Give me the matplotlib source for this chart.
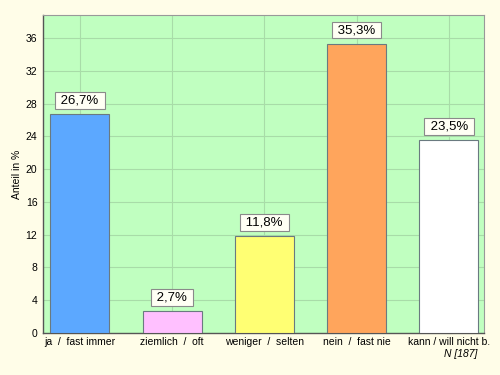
import matplotlib
matplotlib.use("Agg")
import matplotlib.pyplot as plt
import numpy as np

plt.rcParams['font.family'] = ['Liberation Sans', 'DejaVu Sans']

# values
categories = ["ja  /  fast immer", "ziemlich  /  oft", "weniger  /  selten",
              "nein  /  fast nie", "kann / will nicht b."]
values = [26.7, 2.7, 11.8, 35.3, 23.5]
bar_colors = ["#5ca8ff", "#ffc0ff", "#ffff73", "#ffa55c", "#ffffff"]
yticks = [0, 4, 8, 12, 16, 20, 24, 28, 32, 36]
n_note = "N [187]"

fig = plt.figure(figsize=(5, 3.75), dpi=100, facecolor="#fffde8")
ax = fig.add_axes([0.086, 0.112, 0.882, 0.848])
ax.set_facecolor("#c0ffc0")

x = np.arange(len(categories))
ax.bar(x, values, width=0.64, color=bar_colors, edgecolor="#6a7a80",
       linewidth=0.8, zorder=3)

for xi, v in zip(x, values):
    label = " " + ("%.1f%%" % v).replace(".", ",") + " "
    ax.annotate(label, (xi, v),
                xytext=(0, 5.5), textcoords="offset points",
                ha="center", va="bottom", fontsize=9.5, zorder=5,
                bbox=dict(boxstyle="square,pad=0.18", fc="#fffff4",
                          ec="#8a8a8a", lw=0.8))

ax.set_xlim(-0.4, 4.38)
ax.set_ylim(0, 38.8)
ax.set_yticks(yticks)
ax.set_xticks(x)
ax.set_xticklabels(categories, fontsize=7.5)
ax.tick_params(axis="y", labelsize=7.5, length=0, pad=4)
ax.tick_params(axis="x", length=0, pad=3)
ax.grid(True, color="#a8dca8", linewidth=0.8, zorder=0)

for side in ["left", "bottom"]:
    ax.spines[side].set_color("#555555")
    ax.spines[side].set_linewidth(1.0)
for side in ["top", "right"]:
    ax.spines[side].set_color("#999999")
    ax.spines[side].set_linewidth(0.8)

ax.set_ylabel("Anteil in %", fontsize=7.5, labelpad=3)
fig.text(0.955, 0.055, n_note, ha="right", va="center", fontsize=7.5,
         style="italic")

fig.savefig("out.png", dpi=100, facecolor=fig.get_facecolor())
